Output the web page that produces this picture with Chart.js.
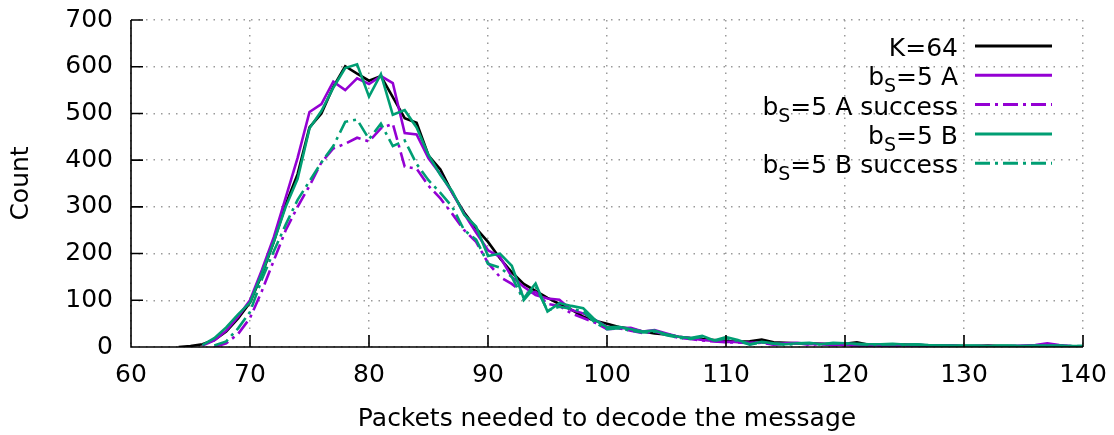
<!DOCTYPE html>
<html>
<head>
<meta charset="utf-8">
<script src="https://cdn.jsdelivr.net/npm/chart.js@4/dist/chart.umd.min.js"></script>
<style>
  html, body { margin: 0; padding: 0; background: #ffffff; }
  canvas { display: block; }
</style>
</head>
<body>
<canvas id="chart" width="1114" height="435"></canvas>
<script>
// Number of packets received before the message could be decoded
const packets = [64, 65, 66, 67, 68, 69, 70, 71, 72, 73, 74, 75, 76, 77, 78, 79, 80, 81, 82, 83,
  84, 85, 86, 87, 88, 89, 90, 91, 92, 93, 94, 95, 96, 97, 98, 99, 100, 101, 102, 103,
  104, 105, 106, 107, 108, 109, 110, 111, 112, 113, 114, 115, 116, 117, 118, 119, 120, 121, 122, 123,
  124, 125, 126, 127, 128, 129, 130, 131, 132, 133, 134, 135, 136, 137, 138, 139, 140];

// Histogram counts per series (same order as packets)
const countK64 = [0, 2, 6, 15, 33, 61, 95, 155, 225, 305, 370, 470, 500, 557, 601, 585, 570, 580, 535, 490,
  480, 410, 380, 330, 288, 254, 225, 190, 160, 135, 120, 105, 92, 80, 65, 56, 50, 43, 39, 33,
  29, 27, 22, 19, 17, 15, 13, 11, 12, 16, 10, 9, 8, 8, 7, 6, 7, 10, 5, 5,
  4, 5, 4, 3, 3, 3, 2, 2, 3, 2, 2, 1, 2, 1, 1, 1, 1];

const countA = [null, null, 3, 14, 35, 65, 100, 165, 235, 320, 405, 503, 520, 568, 550, 575, 563, 580, 565, 458,
  455, 404, 370, 330, 285, 245, 207, 193, 150, 129, 111, 104, 101, 79, 72, 58, 43, 40, 41, 33,
  36, 29, 22, 19, 15, 13, 11, 11, 9, 10, 6, 8, 9, 6, 7, 5, 5, 4, 3, 4,
  3, 4, 5, 3, 2, 3, 1, 2, 2, 1, 2, 3, 4, 8, 4, 2, 1];

const countASuccess = [null, null, null, 0, 8, 28, 62, 120, 185, 250, 300, 345, 395, 425, 435, 448, 440, 468, 478, 386,
  382, 345, 318, 285, 250, 225, 180, 150, 135, 115, 118, 92, 88, 72, 62, 52, 38, 40, 35, 30,
  33, 26, 20, 17, 14, 12, 10, 10, 8, 9, 5, 7, 8, 5, 6, 4, 4, 3, 3, 3,
  2, 3, 4, 2, 2, 2, 1, 1, 2, 1, 1, 2, 3, 6, 3, 1, 1];

const countB = [null, null, 4, 19, 42, 70, 95, 158, 225, 300, 360, 468, 505, 555, 597, 605, 536, 584, 497, 507,
  470, 411, 368, 333, 283, 258, 195, 200, 174, 104, 136, 76, 94, 88, 83, 58, 42, 43, 38, 33,
  35, 27, 22, 19, 24, 14, 21, 15, 6, 11, 8, 6, 8, 9, 6, 9, 8, 7, 6, 6,
  7, 5, 6, 4, 3, 3, 3, 3, 2, 3, 3, 2, 3, 3, 3, 2, 2];

const countBSuccess = [null, null, null, 3, 12, 40, 75, 145, 205, 262, 315, 355, 395, 430, 482, 487, 445, 478, 430, 442,
  392, 357, 330, 300, 250, 230, 178, 170, 150, 100, 130, 78, 86, 82, 76, 52, 38, 40, 35, 31,
  33, 25, 20, 17, 22, 13, 19, 13, 5, 10, 7, 5, 7, 8, 5, 8, 7, 6, 5, 5,
  6, 4, 5, 3, 3, 2, 2, 2, 2, 2, 2, 2, 2, 2, 2, 2, 2];

// Axis ticks
const xTicks = [60, 70, 80, 90, 100, 110, 120, 130, 140];
const yTicks = [0, 100, 200, 300, 400, 500, 600, 700];

const FONT = "'DejaVu Sans', 'Noto Sans', sans-serif";
const PURPLE = '#9400d3';
const GREEN = '#009e73';
const DASH_DOT = [15, 5, 3, 5];

function points(values) {
  return packets.map((p, i) => ({ x: p, y: values[i] }));
}

function series(label, values, color, dash, order) {
  return {
    label: label,
    data: points(values),
    borderColor: color,
    backgroundColor: color,
    borderWidth: 2.6,
    borderDash: dash,
    borderCapStyle: 'butt',
    borderJoinStyle: 'miter',
    pointRadius: 0,
    pointHoverRadius: 0,
    tension: 0,
    fill: false,
    spanGaps: false,
    order: order
  };
}

// Axis lines with inward tick marks
const axesPlugin = {
  id: 'axesPlugin',
  afterDatasetsDraw(chart) {
    const { ctx, chartArea: a, scales: { x, y } } = chart;
    ctx.save();
    ctx.strokeStyle = '#000000';
    ctx.lineWidth = 1.6;
    ctx.lineCap = 'butt';
    ctx.beginPath();
    ctx.moveTo(a.left, a.top);
    ctx.lineTo(a.left, a.bottom);
    ctx.lineTo(a.right, a.bottom);
    xTicks.forEach(v => {
      const p = x.getPixelForValue(v);
      ctx.moveTo(p, a.bottom);
      ctx.lineTo(p, a.bottom - 12);
    });
    yTicks.forEach(v => {
      const p = y.getPixelForValue(v);
      ctx.moveTo(a.left, p);
      ctx.lineTo(a.left + 12, p);
    });
    ctx.stroke();
    ctx.restore();
  }
};

// Key in the upper right: right-aligned labels followed by a line sample.
// "_X" in a label is set as a subscript.
const keyPlugin = {
  id: 'keyPlugin',
  afterDraw(chart) {
    const { ctx } = chart;
    const textRight = 958;
    const lineStart = 975;
    const lineEnd = 1052;
    const firstRow = 46;
    const rowStep = 29.3;
    const mainFont = '25px ' + FONT;
    const subFont = '19px ' + FONT;
    ctx.save();
    chart.data.datasets.forEach((ds, i) => {
      const yRow = firstRow + i * rowStep;
      const parts = [];
      const re = /_(.)/g;
      let last = 0, m;
      while ((m = re.exec(ds.label)) !== null) {
        if (m.index > last) parts.push({ t: ds.label.slice(last, m.index), sub: false });
        parts.push({ t: m[1], sub: true });
        last = m.index + m[0].length;
      }
      if (last < ds.label.length) parts.push({ t: ds.label.slice(last), sub: false });
      let total = 0;
      parts.forEach(p => {
        ctx.font = p.sub ? subFont : mainFont;
        p.w = ctx.measureText(p.t).width;
        total += p.w;
      });
      let cx = textRight - total;
      ctx.fillStyle = '#000000';
      ctx.textAlign = 'left';
      ctx.textBaseline = 'alphabetic';
      parts.forEach(p => {
        ctx.font = p.sub ? subFont : mainFont;
        ctx.fillText(p.t, cx, yRow + 10 + (p.sub ? 7 : 0));
        cx += p.w;
      });
      ctx.strokeStyle = ds.borderColor;
      ctx.lineWidth = 3;
      ctx.lineCap = 'butt';
      ctx.setLineDash(ds.borderDash || []);
      ctx.beginPath();
      ctx.moveTo(lineStart, yRow);
      ctx.lineTo(lineEnd, yRow);
      ctx.stroke();
      ctx.setLineDash([]);
    });
    ctx.restore();
  }
};

const gridStyle = {
  color: '#9a9a9a',
  lineWidth: 1.5,
  drawTicks: false
};

new Chart(document.getElementById('chart'), {
  type: 'line',
  data: {
    datasets: [
      series('K=64', countK64, '#000000', [], 5),
      series('b_S=5 A', countA, PURPLE, [], 4),
      series('b_S=5 A success', countASuccess, PURPLE, DASH_DOT, 3),
      series('b_S=5 B', countB, GREEN, [], 2),
      series('b_S=5 B success', countBSuccess, GREEN, DASH_DOT, 1)
    ]
  },
  options: {
    responsive: false,
    animation: false,
    devicePixelRatio: 1,
    layout: { padding: { top: 20, right: 31, left: 0, bottom: 0 } },
    plugins: {
      legend: { display: false },
      tooltip: { enabled: false },
      title: { display: false }
    },
    scales: {
      x: {
        type: 'linear',
        min: 60,
        max: 140,
        afterFit(scale) {
          scale.height = 88;
          scale.paddingLeft = 0;
          scale.paddingRight = 0;
        },
        afterBuildTicks(scale) { scale.ticks = xTicks.map(v => ({ value: v })); },
        grid: gridStyle,
        border: { display: false, dash: [1.5, 6] },
        ticks: {
          color: '#000000',
          font: { family: FONT, size: 25 },
          padding: 13,
          maxRotation: 0,
          autoSkip: false
        },
        title: {
          display: true,
          text: 'Packets needed to decode the message',
          color: '#000000',
          font: { family: FONT, size: 25, lineHeight: 1.2 },
          padding: { top: 0, bottom: 1 }
        }
      },
      y: {
        type: 'linear',
        min: 0,
        max: 700,
        afterFit(scale) {
          scale.width = 131;
          scale.paddingTop = 0;
          scale.paddingBottom = 0;
        },
        afterBuildTicks(scale) { scale.ticks = yTicks.map(v => ({ value: v })); },
        grid: gridStyle,
        border: { display: false, dash: [1.5, 6] },
        ticks: {
          color: '#000000',
          font: { family: FONT, size: 25 },
          padding: 18,
          autoSkip: false
        },
        title: {
          display: true,
          text: 'Count',
          color: '#000000',
          font: { family: FONT, size: 25, lineHeight: 1.2 },
          padding: { top: 6, bottom: 0 }
        }
      }
    }
  },
  plugins: [axesPlugin, keyPlugin]
});
</script>
</body>
</html>
